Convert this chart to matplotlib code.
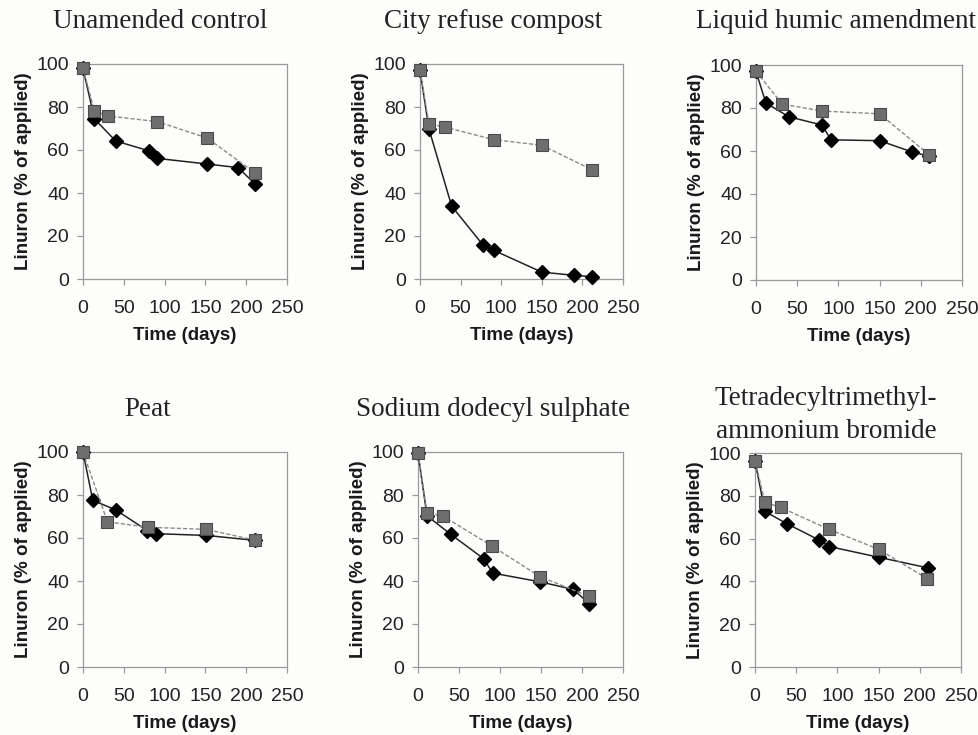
import matplotlib.pyplot as plt

# panel titles
titles = [
    "Unamended control",
    "City refuse compost",
    "Liquid humic amendment",
    "Peat",
    "Sodium dodecyl sulphate",
    "Tetradecyltrimethyl-\nammonium bromide",
]

# black diamonds
diamond_days = [
    [0, 14, 40, 81, 91, 152, 190, 211],
    [0, 11, 39, 78, 91, 150, 190, 212],
    [0, 12, 40, 80, 91, 150, 189, 210],
    [0, 12, 40, 79, 90, 151, 211],
    [0, 11, 40, 80, 91, 149, 189, 209],
    [0, 12, 39, 78, 90, 150, 210],
]
diamond_vals = [
    [98, 74.5, 64.2, 59.6, 56.1, 53.5, 51.8, 44.2],
    [97, 69.8, 33.9, 15.6, 13.3, 3.2, 1.7, 1.1],
    [97, 82.3, 75.9, 72.1, 65.2, 64.8, 59.6, 57.6],
    [100, 77.5, 73.1, 63.4, 62.0, 61.2, 58.9],
    [99.5, 70.3, 61.7, 50.4, 43.7, 39.6, 36.1, 29.5],
    [96.4, 72.7, 66.9, 59.3, 56.3, 51.3, 46.3],
]

# gray squares
square_days = [
    [0, 14, 31, 91, 152, 211],
    [0, 11, 31, 91, 150, 212],
    [0, 32, 80, 150, 210],
    [0, 30, 80, 151, 211],
    [0, 11, 31, 90, 149, 209],
    [0, 12, 31, 90, 150, 209],
]
square_vals = [
    [98, 78.2, 75.8, 73.2, 65.6, 49.3],
    [97, 72.2, 70.6, 64.8, 62.2, 50.8],
    [97, 81.8, 78.6, 77.3, 58.3],
    [100, 67.5, 65.0, 64.0, 59.0],
    [99.5, 71.8, 70.1, 56.3, 42.0, 32.8],
    [96.4, 77.0, 74.6, 64.3, 55.0, 41.3],
]

W, H = 979, 735
# axes boxes in pixels: left, right, top, bottom
boxes = [
    (83, 287, 64, 279),
    (420, 623, 64, 279),
    (756, 962, 65, 280),
    (83, 287, 452, 667),
    (418, 623, 452, 667),
    (755, 961, 453, 667),
]
title_pos = [(160, 22), (493, 22), (836, 22), (148, 410), (493, 410), (826, 415)]

plt.rcParams["font.family"] = ["Liberation Sans", "DejaVu Sans"]

fig = plt.figure(figsize=(W / 100, H / 100), dpi=100)
fig.patch.set_facecolor("#fdfdfb")

for i in range(6):
    l, r, t, b = boxes[i]
    ax = fig.add_axes([l / W, 1 - b / H, (r - l) / W, (b - t) / H])
    ax.set_facecolor("#fdfdfb")

    ax.plot(square_days[i], square_vals[i], color="#8a8a8a", lw=1.0, ls=(0, (3, 1.5)),
            marker="s", ms=9, mfc="#6e6e6e", mec="#4a4a4a", mew=0.8, zorder=4, clip_on=False)
    ax.plot(diamond_days[i], diamond_vals[i], color="#222222", lw=1.1,
            marker="D", ms=7, mfc="black", mec="black", zorder=3, clip_on=False)

    ax.set_xlim(0, 250)
    ax.set_ylim(0, 100)
    ax.set_xticks([0, 50, 100, 150, 200, 250])
    ax.set_yticks([0, 20, 40, 60, 80, 100])
    for s in ax.spines.values():
        s.set_color("#9a9a9a")
        s.set_linewidth(0.9)
    ax.tick_params(axis="both", colors="#9a9a9a", labelcolor="#222222",
                   labelsize=14, length=4, width=0.9, direction="out")
    ax.tick_params(axis="x", pad=11)
    ax.tick_params(axis="y", pad=6)
    ax.set_xlabel("Time (days)", fontsize=13.5, fontweight="bold", color="#1a1a1a", labelpad=7)
    ax.set_ylabel("Linuron (% of applied)", fontsize=13.5, fontweight="bold", color="#1a1a1a",
                  labelpad=3)

    tx, ty = title_pos[i]
    fig.text(tx / W, 1 - ty / H, titles[i], ha="center", va="center", fontsize=19.5,
             family="Liberation Serif", color="#222222", linespacing=1.45)

fig.savefig("out.png", dpi=100, facecolor=fig.get_facecolor())
